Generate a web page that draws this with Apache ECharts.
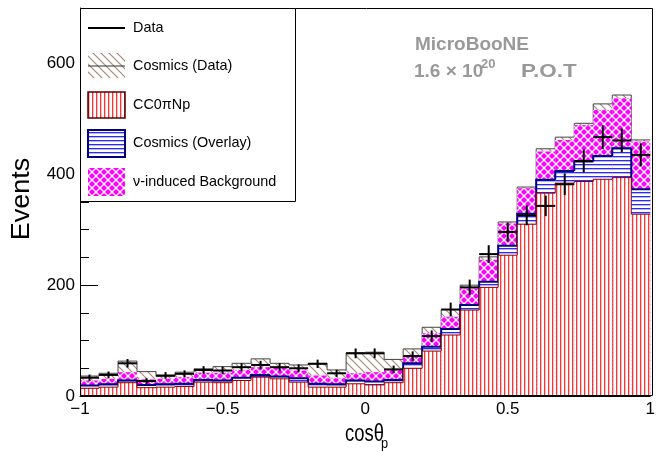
<!DOCTYPE html>
<html><head><meta charset="utf-8">
<script src="https://cdn.jsdelivr.net/npm/echarts/dist/echarts.min.js"></script>
<style>html,body{margin:0;padding:0;background:#fff}#c{width:658px;height:452px}</style>
</head><body><div id="c"></div>
<script>
// ---- data (30 bins of cos(theta_p) from -1 to 1) ----
const nBins = 30, xLow = -1, xHigh = 1;
const cc0piNp        = [14,16,24,15,16,17,25,24,28,34,31,25,16,16,22,20,24,50,81,110,155,196,254,310,366,384,387,391,394,328];
const cosmicsOverlay = [5,5,4,5,5,5,4,4,5,4,4,7,6,5,6,6,5,9,8,11,9,10,17,19,24,22,36,42,53,45];
const nuBackground   = [9,10,15,10,10,12,13,14,14,14,17,14,15,11,13,17,19,15,24,22,30,40,40,46,51,56,66,83,90,86];
const cosmicsData    = [8,10,20,14,4,9,7,11,12,15,7,10,22,15,37,36,18,11,11,13,6,5,3,2,5,5,3,11,6,3];
const dataCounts     = [33,38,59,27,37,40,47,46,52,56,52,50,58,41,77,77,48,72,108,156,196,256,296,326,343,382,424,467,461,435];
const dataErrors     = [5.7,6.2,7.7,5.2,6.1,6.3,6.9,6.8,7.2,7.5,7.2,7.1,7.6,6.4,8.8,8.8,6.9,8.5,10.4,12.5,14,16,17.2,18.1,18.5,19.5,20.6,21.6,21.5,20.9];
const xTickStep = 0.5, yTickStep = 200, yMax = 700;

const FONT = "'Liberation Sans', Arial, Helvetica, sans-serif";
const bw = (xHigh - xLow) / nBins;

function pat(w, h, draw) {
  const c = document.createElement('canvas'); c.width = w; c.height = h;
  const ctx = c.getContext('2d'); draw(ctx); return { image: c, repeat: 'repeat' };
}
const redPat = pat(4, 4, ctx => { ctx.fillStyle = '#fff'; ctx.fillRect(0,0,4,4); ctx.fillStyle = '#ff3434'; ctx.fillRect(0,0,1,4); ctx.fillStyle = '#ffbcbc'; ctx.fillRect(1,0,1,4); });
const bluePat = pat(4, 4, ctx => { ctx.fillStyle = '#fff'; ctx.fillRect(0,0,4,4); ctx.fillStyle = '#2a2aff'; ctx.fillRect(0,0,4,1); ctx.fillStyle = '#b4b4ff'; ctx.fillRect(0,1,4,1); });
const magPat = pat(8, 8, ctx => { ctx.fillStyle = '#ff00ff'; ctx.fillRect(0,0,8,8); ctx.strokeStyle = '#fff'; ctx.lineWidth = 1.3; ctx.beginPath(); ctx.moveTo(0,0); ctx.lineTo(8,8); ctx.moveTo(8,0); ctx.lineTo(0,8); ctx.stroke(); });
const hatchPat = pat(8, 8, ctx => { ctx.fillStyle = '#fff'; ctx.fillRect(0,0,8,8); ctx.strokeStyle = '#a8897a'; ctx.lineWidth = 1.2; ctx.beginPath(); ctx.moveTo(-1,-1); ctx.lineTo(9,9); ctx.moveTo(-1,7); ctx.lineTo(1,9); ctx.moveTo(7,-1); ctx.lineTo(9,1); ctx.stroke(); });

// cumulative stacks (bottom -> top)
const layersBottomUp = [
  { values: cc0piNp, fill: redPat, stroke: '#880000', lw: 1 },
  { values: cosmicsOverlay, fill: bluePat, stroke: '#000080', lw: 2 },
  { values: nuBackground, fill: magPat, stroke: null, lw: 0 },
  { values: cosmicsData, fill: hatchPat, stroke: '#444', lw: 1 }
];
let base = new Array(nBins).fill(0);
layersBottomUp.forEach(L => { L.cum = L.values.map((v, i) => base[i] + v); base = L.cum; });

function histSeries(L) {
  const data = L.cum.map((v, i) => [i, v, i > 0 ? L.cum[i - 1] : 0]);
  return {
    type: 'custom', clip: true, data: data,
    renderItem: function (params, api) {
      const i = api.value(0), top = api.value(1), prev = api.value(2);
      const x0 = xLow + i * bw, x1 = x0 + bw;
      const a = api.coord([x0, top]), b = api.coord([x1, 0]);
      const children = [{ type: 'rect', shape: { x: a[0], y: a[1], width: b[0] - a[0], height: b[1] - a[1] }, style: { fill: L.fill } }];
      if (L.stroke) {
        children.push({ type: 'polyline', shape: { points: [api.coord([x0, prev]), api.coord([x0, top]), api.coord([x1, top])] }, style: { stroke: L.stroke, lineWidth: L.lw, fill: null } });
      }
      return { type: 'group', children: children };
    }
  };
}

const series = layersBottomUp.slice().reverse().map(histSeries);
series.push({
  type: 'custom', clip: true,
  data: dataCounts.map((v, i) => [i, v, dataErrors[i]]),
  renderItem: function (params, api) {
    const i = api.value(0), v = api.value(1), e = api.value(2);
    const x0 = xLow + i * bw, x1 = x0 + bw, xc = x0 + bw / 2;
    const s = { stroke: '#000', lineWidth: 2 };
    const p0 = api.coord([x0, v]), p1 = api.coord([x1, v]), q0 = api.coord([xc, v - e]), q1 = api.coord([xc, v + e]);
    return { type: 'group', children: [
      { type: 'line', shape: { x1: p0[0], y1: p0[1], x2: p1[0], y2: p1[1] }, style: s },
      { type: 'line', shape: { x1: q0[0], y1: q0[1], x2: q1[0], y2: q1[1] }, style: s }
    ] };
  }
});

const minus = v => (v < 0 ? '\u2212' + Math.abs(v) : String(v));
const G = { left: 80, top: 8, right: 5, bottom: 56 };
const chart = echarts.init(document.getElementById('c'));

function txt(x, y, text, size, opts) {
  opts = opts || {};
  return { type: 'text', x: x, y: y, z: 100, rotation: opts.rot || 0, scaleX: opts.sx || 1, scaleY: opts.sy || 1,
    style: { text: text, fill: opts.color || '#000', font: (opts.bold ? 'bold ' : '') + size + 'px ' + FONT,
      align: opts.align || 'left', verticalAlign: 'middle', textAlign: opts.align || 'left', textVerticalAlign: 'middle' } };
}
const LX = 88, LW = 37, LT = 133;
const graphic = [
  // frame
  { type: 'rect', z: 90, shape: { x: G.left + 0.5, y: G.top + 0.5, width: 658 - G.left - G.right - 1, height: 452 - G.top - G.bottom - 1 }, style: { fill: null, stroke: '#000', lineWidth: 1 } },
  // legend box
  { type: 'rect', z: 95, shape: { x: 80.5, y: 8.5, width: 215, height: 193 }, style: { fill: '#fff', stroke: '#000', lineWidth: 1 } },
  { type: 'line', z: 100, shape: { x1: LX, y1: 28, x2: LX + LW, y2: 28 }, style: { stroke: '#000', lineWidth: 2 } },
  txt(LT, 28, 'Data', 15, { sx: 0.96 }),
  { type: 'rect', z: 100, shape: { x: LX, y: 53, width: LW, height: 25 }, style: { fill: hatchPat } },
  { type: 'line', z: 100, shape: { x1: LX, y1: 66, x2: LX + LW, y2: 66 }, style: { stroke: '#333', lineWidth: 1 } },
  txt(LT, 66, 'Cosmics (Data)', 15, { sx: 0.96 }),
  { type: 'rect', z: 100, shape: { x: LX, y: 92, width: LW, height: 26 }, style: { fill: redPat, stroke: '#550000', lineWidth: 1.5 } },
  txt(LT, 105, 'CC0\u03c0Np', 15, { sx: 0.96 }),
  { type: 'rect', z: 100, shape: { x: LX, y: 130, width: LW, height: 27 }, style: { fill: bluePat, stroke: '#000080', lineWidth: 2 } },
  txt(LT, 143, 'Cosmics (Overlay)', 15, { sx: 0.96 }),
  { type: 'rect', z: 100, shape: { x: LX, y: 168, width: LW, height: 28 }, style: { fill: magPat } },
  txt(LT, 182, '\u03bd-induced Background', 15, { sx: 0.96 }),
  // labels
  txt(415, 45, 'MicroBooNE', 19, { bold: true, color: '#999' }),
  txt(414, 72, '1.6 \u00d7 10', 19, { bold: true, color: '#999' }),
  txt(481, 64, '20', 13, { bold: true, color: '#999' }),
  txt(521, 72, 'P.O.T', 19, { bold: true, color: '#999', sx: 1.18 }),
  txt(22, 199, 'Events', 25, { rot: Math.PI / 2, align: 'center', sx: 1.08 }),
  txt(345, 435, 'cos\u03b8', 23, { sx: 0.8 }),
  txt(381, 444, 'p', 15, { sx: 0.85 })
];

chart.setOption({
  animation: false,
  grid: G,
  xAxis: { type: 'value', min: xLow, max: xHigh, interval: xTickStep,
    axisLine: { show: true, onZero: false, lineStyle: { color: '#000' } }, splitLine: { show: false },
    axisTick: { show: false },
    axisLabel: { color: '#000', fontSize: 17, fontFamily: FONT, margin: 5, formatter: minus, showMinLabel: true, showMaxLabel: true } },
  yAxis: { type: 'value', min: 0, max: yMax, interval: yTickStep,
    axisLine: { show: true, onZero: false, lineStyle: { color: '#000' } }, splitLine: { show: false },
    axisTick: { show: true, inside: true, length: 18, lineStyle: { color: '#000' } },
    minorTick: { show: true, splitNumber: 4, length: 9, lineStyle: { color: '#000' } },
    axisLabel: { color: '#000', fontSize: 17, fontFamily: FONT, margin: 5, showMaxLabel: false } },
  series: series,
  graphic: graphic
});
</script></body></html>
